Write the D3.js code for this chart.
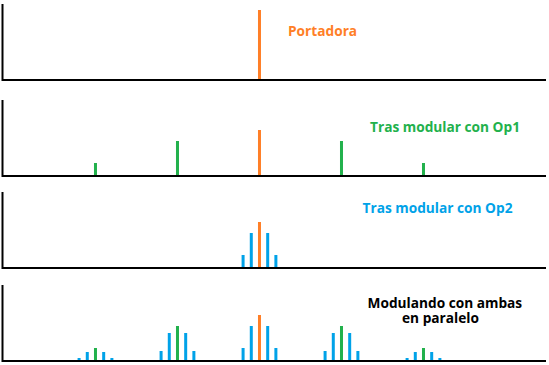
<!DOCTYPE html>
<html>
<head>
<meta charset="utf-8">
<script src="https://cdn.jsdelivr.net/npm/d3@7"></script>
<style>
  body { margin: 0; background: #fff; }
  text { font-family: "Open Sans", sans-serif; font-weight: bold; font-size: 13.7px; }
</style>
</head>
<body>
<div id="chart"></div>
<script>
// Frequency offsets relative to the carrier (Op1 spacing = 1, Op2 spacing = 0.1), amplitudes in arbitrary units
const carrierAlone = [[0, 70]];
const carrier = [[0, 46]];
const op1Bands = [[-2, 13], [-1, 35], [1, 35], [2, 13]];
const op2Bands = [[-0.2, 13], [-0.1, 35], [0.1, 35], [0.2, 13]];
const bothGreen = [[-2, 13], [-1, 35], [1, 35], [2, 13]];
const bothBlue = [
  [-2.2, 3], [-2.1, 9], [-1.9, 9], [-1.8, 3],
  [-1.2, 10], [-1.1, 28], [-0.9, 28], [-0.8, 10],
  [-0.2, 13], [-0.1, 35], [0.1, 35], [0.2, 13],
  [0.8, 10], [0.9, 28], [1.1, 28], [1.2, 10],
  [1.8, 3], [1.9, 9], [2.1, 9], [2.2, 3]
];
const labels = [["Portadora"], ["Tras modular con Op1"], ["Tras modular con Op2"], ["Modulando con ambas", "en paralelo"]];

const orange = "#FF7F27", green = "#22B14C", blue = "#00A2E8";

const panels = [
  { bottom: 80, series: [[carrierAlone, orange]], label: labels[0], color: orange, lx: [288], ly: [36] },
  { bottom: 176, series: [[op1Bands, green], [carrier, orange]], label: labels[1], color: green, lx: [370], ly: [132] },
  { bottom: 268, series: [[op2Bands, blue], [carrier, orange]], label: labels[2], color: blue, lx: [362.5], ly: [212.5] },
  { bottom: 361, series: [[bothBlue, blue], [bothGreen, green], [carrier, orange]], label: labels[3], color: "#000", lx: [367.5, 402], ly: [308, 322.5] }
];

const width = 549, height = 365;
const panelH = 76;

const svg = d3.select("#chart").append("svg")
  .attr("width", width)
  .attr("height", height);

const x = d3.scaleLinear().domain([-3.14, 3.494]).range([2, 546]);

panels.forEach(p => {
  const y = d3.scaleLinear().domain([0, panelH]).range([p.bottom, p.bottom - panelH]);
  const g = svg.append("g");

  // axes (plain lines, no ticks)
  g.append("line")
    .attr("x1", 2.5).attr("x2", 2.5)
    .attr("y1", y(panelH)).attr("y2", p.bottom + 1)
    .attr("stroke", "#000").attr("stroke-width", 2);
  g.append("line")
    .attr("x1", 2).attr("x2", 546)
    .attr("y1", p.bottom).attr("y2", p.bottom)
    .attr("stroke", "#000").attr("stroke-width", 2);

  p.series.forEach(([data, color]) => {
    g.selectAll(null)
      .data(data)
      .enter()
      .append("rect")
      .attr("x", d => x(d[0]) - 1.5)
      .attr("width", 3)
      .attr("y", d => y(d[1]))
      .attr("height", d => p.bottom - 1 - y(d[1]))
      .attr("fill", color);
  });

  p.label.forEach((t, i) => {
    g.append("text")
      .attr("x", p.lx[i])
      .attr("y", p.ly[i])
      .attr("fill", p.color)
      .text(t);
  });
});
</script>
</body>
</html>
